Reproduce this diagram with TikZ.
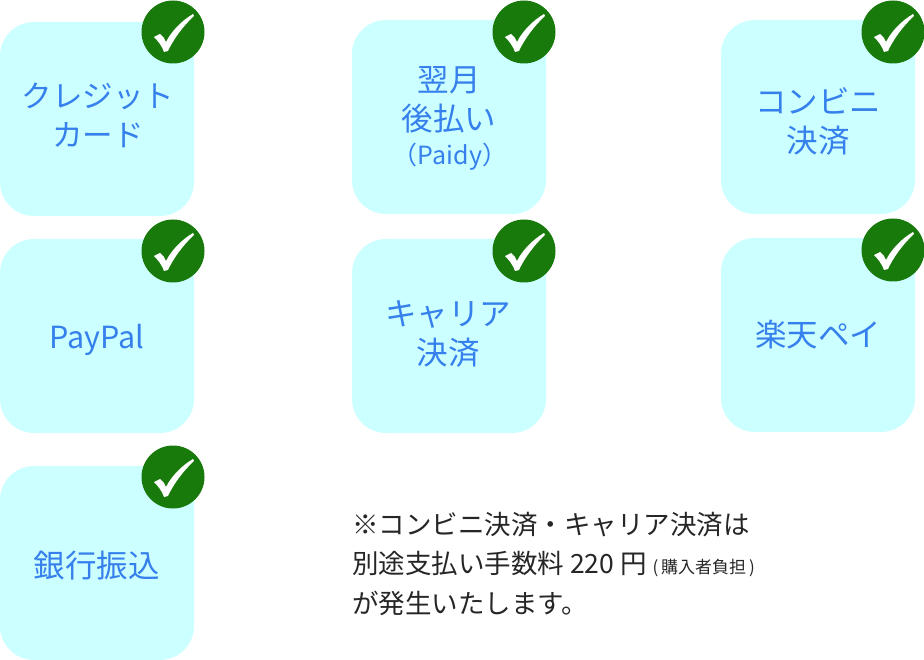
\documentclass[tikz,border=0pt]{standalone}
\usepackage{fontspec}
\setmainfont{Noto Sans CJK JP}
\definecolor{boxcyan}{HTML}{CCFFFF}
\definecolor{labelblue}{HTML}{3580EC}
\definecolor{checkgreen}{HTML}{197A0C}
\tikzset{
	paybox/.style={fill=boxcyan,rounded corners=34pt,minimum width=194pt,minimum height=194pt,inner sep=0pt},
	paylabel/.style={text=labelblue,font=\fontsize{31.5}{39}\selectfont,align=center,inner sep=0pt},
	tick/.style={circle,fill=checkgreen,minimum size=63pt,inner sep=0pt},
	notetext/.style={anchor=base west,inner sep=0pt,text=black!85,font=\fontsize{26.5}{30}\selectfont},
	ticksign/.pic={\fill[white] (-19,5) -- (-13,2) .. controls (-10,4) and (-8,7) .. (-7,10) .. controls (-2,0) and (8,-11) .. (20,-18) -- (21,-16) .. controls (10,-6) and (0,8) .. (-5,19) -- (-9,20) .. controls (-11,14) and (-15,9) .. (-19,5) -- cycle;}
}
\begin{document}
\begin{tikzpicture}[x=1pt,y=-1pt]
	\useasboundingbox (0,0) rectangle (924,660);
	% boxes
	\node[paybox] (card) at (97,119) {};
	\node[paybox] (paidy) at (449,117) {};
	\node[paybox] (konbini) at (818,117) {};
	\node[paybox] (paypal) at (97,336) {};
	\node[paybox] (carrier) at (449,336) {};
	\node[paybox] (rakuten) at (818,335) {};
	\node[paybox] (bank) at (97,563) {};
	% labels
	\node[paylabel,font=\fontsize{30.5}{39}\selectfont] (cardtext) at (98,115) {クレジット\\カード};
	\node[paylabel] (paidytext) at (449,100) {翌月\\後払い};
	\node[paylabel,font=\fontsize{25}{28}\selectfont] (paidyname) at (450,157) {（Paidy）};
	\node[paylabel] (konbinitext) at (818,121) {コンビニ\\決済};
	\node[paylabel,font=\fontsize{30.5}{39}\selectfont] (paypaltext) at (97,340) {PayPal};
	\node[paylabel] (carriertext) at (448,334) {キャリア\\決済};
	\node[paylabel] (rakutentext) at (818,335) {楽天ペイ};
	\node[paylabel] (banktext) at (97,566) {銀行振込};
	% checks
	\node[tick] (cardtick) at (173,32) {};
	\node[tick] (paidytick) at (524,32) {};
	\node[tick] (konbinitick) at (893,32) {};
	\node[tick] (paypaltick) at (173,251) {};
	\node[tick] (carriertick) at (524,251) {};
	\node[tick] (rakutentick) at (893,250) {};
	\node[tick] (banktick) at (173,477) {};
	\pic at (cardtick) {ticksign};
	\pic at (paidytick) {ticksign};
	\pic at (konbinitick) {ticksign};
	\pic at (paypaltick) {ticksign};
	\pic at (carriertick) {ticksign};
	\pic at (rakutentick) {ticksign};
	\pic at (banktick) {ticksign};
	% note
	\node[notetext] (noteone) at (352,534) {※コンビニ決済・キャリア決済は};
	\node[notetext] (notetwo) at (352,573) {別途支払い手数料 220 円 {\fontsize{17}{18}\selectfont (\,購入者負担\,)}};
	\node[notetext] (notethree) at (352,613) {が発生いたします。};
\end{tikzpicture}
\end{document}
